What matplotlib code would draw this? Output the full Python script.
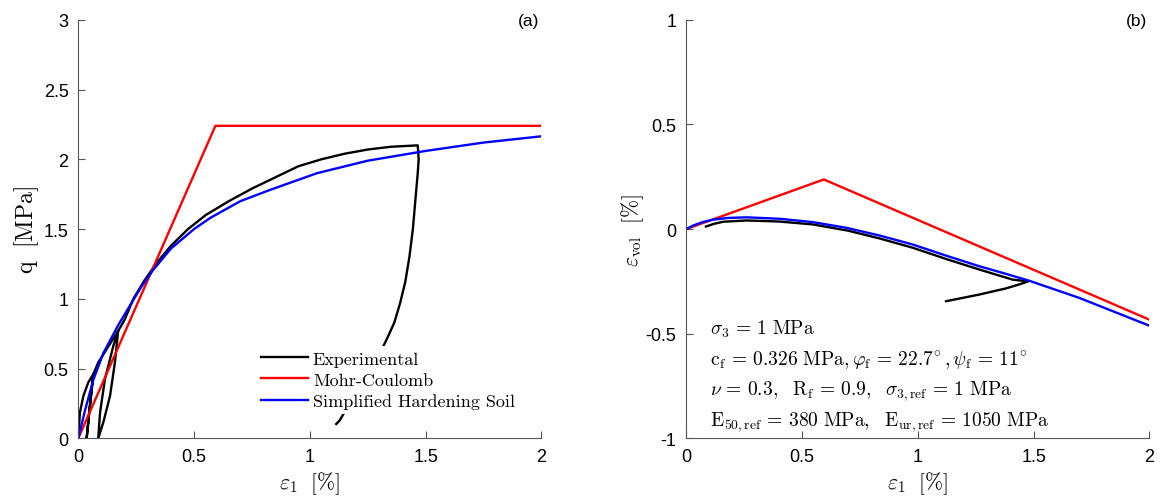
import numpy as np
import matplotlib
matplotlib.use("Agg")
import matplotlib.pyplot as plt
from matplotlib.ticker import FormatStrFormatter

plt.rcParams['mathtext.fontset'] = 'cm'
plt.rcParams['font.family'] = ['Liberation Sans', 'DejaVu Sans']
plt.rcParams['axes.unicode_minus'] = False

# ---- panel (a): deviatoric stress vs axial strain ----
exp_e1 = [0, 0.007, 0.022, 0.043, 0.065, 0.053, 0.043, 0.036, 0.047, 0.058, 0.065,
          0.086, 0.122, 0.158, 0.172, 0.158, 0.137, 0.108, 0.086, 0.094, 0.115, 0.151,
          0.172, 0.2, 0.238, 0.285, 0.335, 0.4, 0.474, 0.55, 0.65, 0.75, 0.85, 0.95,
          1.05, 1.15, 1.25, 1.35, 1.466, 1.47, 1.466, 1.458, 1.445, 1.43, 1.412,
          1.39, 1.365, 1.335, 1.3, 1.25, 1.18, 1.128, 1.114]
exp_q = [0, 0.186, 0.304, 0.4, 0.46, 0.28, 0.114, 0, 0.186, 0.352, 0.46,
         0.543, 0.638, 0.733, 0.769, 0.543, 0.304, 0.114, 0, 0.186, 0.424, 0.661,
         0.769, 0.85, 1.0, 1.13, 1.25, 1.38, 1.5, 1.6, 1.7, 1.79, 1.87, 1.95,
         2.0, 2.04, 2.07, 2.09, 2.1, 2.0, 1.9, 1.75, 1.5, 1.3, 1.12,
         0.97, 0.83, 0.72, 0.6, 0.45, 0.27, 0.126, 0.102]

mc_e1 = [0, 0.592, 2.0]
mc_q = [0, 2.24, 2.24]

hs_e1 = [0, 0.029, 0.065, 0.108, 0.172, 0.266, 0.32, 0.4, 0.5, 0.57, 0.7,
         0.827, 1.03, 1.25, 1.5, 1.75, 2.0]
hs_q = [0, 0.2, 0.42, 0.61, 0.81, 1.07, 1.2, 1.36, 1.5, 1.58, 1.7,
        1.78, 1.9, 1.99, 2.06, 2.12, 2.165]

# ---- panel (b): volumetric strain vs axial strain ----
exp_vol_e1 = [0.085, 0.12, 0.16, 0.26, 0.4, 0.547, 0.7, 0.835, 0.98, 1.122, 1.27,
              1.41, 1.477, 1.44, 1.38, 1.266, 1.122]
exp_vol = [0.012, 0.025, 0.035, 0.041, 0.036, 0.022, -0.008, -0.045, -0.09, -0.143,
           -0.195, -0.242, -0.25, -0.264, -0.284, -0.313, -0.345]

mc_vol_e1 = [0, 0.594, 2.0]
mc_vol = [0, 0.237, -0.433]

hs_vol_e1 = [0, 0.03, 0.07, 0.116, 0.18, 0.26, 0.404, 0.547, 0.691, 0.835, 0.978,
             1.122, 1.266, 1.352, 1.481, 1.697, 2.0]
hs_vol = [0, 0.017, 0.033, 0.045, 0.053, 0.056, 0.049, 0.033, 0.006, -0.031, -0.074,
          -0.127, -0.178, -0.205, -0.247, -0.329, -0.462]

params = [r'$\sigma_3 \,=\, 1\ \mathrm{MPa}$',
          r'$\mathrm{c_f} \,=\, 0.326\ \mathrm{MPa}, \varphi_\mathrm{f} \,=\, 22.7^{\!\circ}, \psi_\mathrm{f} \,=\, 11^{\!\circ}$',
          r'$\nu \,=\, 0.3,\ \ \mathrm{R_f} \,=\, 0.9,\ \ \sigma_\mathrm{3,ref} \,=\, 1\ \mathrm{MPa}$',
          r'$\mathrm{E_{50,ref}} \,=\, 380\ \mathrm{MPa},\ \ \mathrm{E_{ur,ref}} \,=\, 1050\ \mathrm{MPa}$']

lw = 1.7
fig = plt.figure(figsize=(11.62, 5.02), dpi=100)
ax1 = fig.add_axes([0.0674, 0.125, 0.3985, 0.8335])
ax2 = fig.add_axes([0.5906, 0.125, 0.3985, 0.8335])


def style(ax):
    for s in ['top', 'right']:
        ax.spines[s].set_visible(False)
    for s in ['left', 'bottom']:
        ax.spines[s].set_color('#555555')
        ax.spines[s].set_linewidth(0.8)
    ax.tick_params(direction='in', length=5, width=0.8, color='#555555',
                   labelsize=13, pad=7)
    ax.xaxis.set_major_formatter(FormatStrFormatter('%g'))
    ax.yaxis.set_major_formatter(FormatStrFormatter('%g'))
    ax.set_xlim(0, 2)
    ax.set_xticks(np.arange(0, 2.01, 0.5))
    ax.set_xlabel(r'$\varepsilon_1\ \ [\%]$', fontsize=15.5, labelpad=3)


ax1.plot(exp_e1, exp_q, color='black', lw=lw, label='Experimental')
ax1.plot(mc_e1, mc_q, color='#ff0000', lw=lw, label='Mohr-Coulomb')
ax1.plot(hs_e1, hs_q, color='#0000ff', lw=lw, label='Simplified Hardening Soil')
style(ax1)
ax1.set_ylim(0, 3)
ax1.set_yticks(np.arange(0, 3.01, 0.5))
ax1.set_ylabel(r'$\mathrm{q}\ \ [\mathrm{MPa}]$', fontsize=17, labelpad=2)
leg = ax1.legend(loc='center left', bbox_to_anchor=(0.382, 0.139), borderaxespad=0,
                 frameon=True, fancybox=False, edgecolor='none', facecolor='white',
                 framealpha=1, prop={'family': 'cmr10', 'size': 13},
                 handlelength=2.6, handletextpad=0.3, labelspacing=0.3, borderpad=0.3)
ax1.text(0.972, 0.998, '(a)', transform=ax1.transAxes, ha='center', va='center', fontsize=12.5)

ax2.plot(exp_vol_e1, exp_vol, color='black', lw=lw)
ax2.plot(mc_vol_e1, mc_vol, color='#ff0000', lw=lw)
ax2.plot(hs_vol_e1, hs_vol, color='#0000ff', lw=lw)
style(ax2)
ax2.set_ylim(-1, 1)
ax2.set_yticks(np.arange(-1, 1.01, 0.5))
ax2.set_ylabel(r'$\varepsilon_\mathrm{vol}\ \ [\%]$', fontsize=15.5, labelpad=0)
ax2.text(0.972, 0.998, '(b)', transform=ax2.transAxes, ha='center', va='center', fontsize=12.5)
for i, s in enumerate(params):
    ax2.text(0.052, 0.262 - i * 0.0735, s, transform=ax2.transAxes, ha='left',
             va='center', fontsize=14)

fig.savefig('out.png', dpi=100)
